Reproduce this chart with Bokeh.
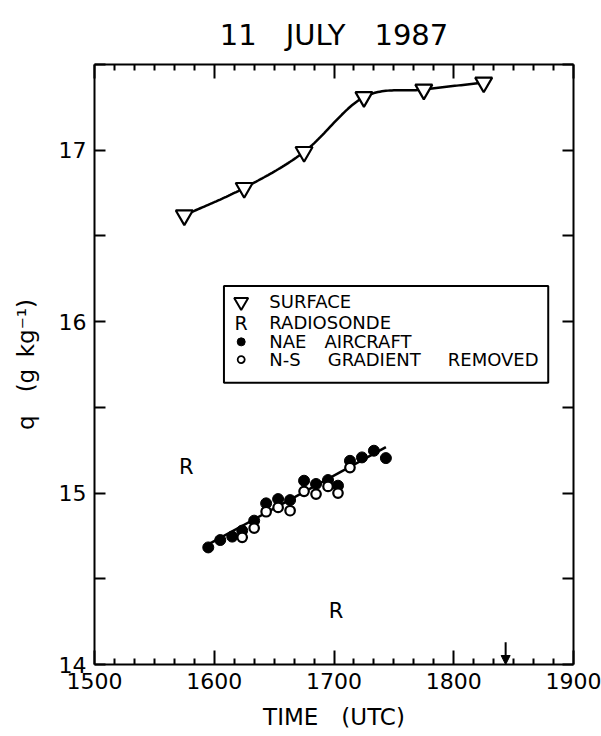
import numpy as np
from bokeh.plotting import figure
from bokeh.models import (LinearAxis, FixedTicker, Range1d, Title, Arrow,
                          NormalHead)
from bokeh.core.properties import value
from bokeh.embed import file_html
from bokeh.resources import INLINE

# ---- data (time in UTC hhmm, specific humidity q in g/kg) ----
surface_time = [1545, 1615, 1645, 1715, 1745, 1815]
surface_q = [16.62, 16.78, 16.99, 17.31, 17.354, 17.395]

radiosonde_time = [1546, 1701]
radiosonde_q = [15.15, 14.315]

aircraft_time = [1557, 1603, 1609, 1614, 1620, 1626, 1632, 1638,
                 1645, 1651, 1657, 1702, 1708, 1714, 1720, 1726]
aircraft_q = [14.683, 14.726, 14.746, 14.781, 14.839, 14.940, 14.965, 14.959,
              15.072, 15.053, 15.076, 15.043, 15.188, 15.208, 15.247, 15.204]

removed_time = [1614, 1620, 1626, 1632, 1638, 1645, 1651, 1657, 1702, 1708]
removed_q = [14.742, 14.796, 14.891, 14.916, 14.897, 15.010, 14.994,
             15.039, 15.000, 15.149]

arrow_time = 1826

x_tick_labels = ["1500", "1600", "1700", "1800", "1900"]
y_tick_labels = ["14", "15", "16", "17"]

GAP = "\u2002\u2002\u2002"
legend_labels = ["SURFACE", "RADIOSONDE",
                 "NAE" + "\u2002\u2002" + "AIRCRAFT",
                 "N-S" + GAP + "GRADIENT" + GAP + "REMOVED"]

FONT = "DejaVu Sans"


def hours(hhmm):
    a = np.asarray(hhmm, dtype=float)
    return np.floor(a / 100) + (a % 100) / 60.0


def smooth_curve(x, y, n=30):
    """Cubic Hermite (Catmull-Rom style) curve through the given points."""
    x = np.asarray(x, float)
    y = np.asarray(y, float)
    m = np.zeros_like(y)
    m[1:-1] = (y[2:] - y[:-2]) / (x[2:] - x[:-2])
    m[0] = (y[1] - y[0]) / (x[1] - x[0])
    m[-1] = (y[-1] - y[-2]) / (x[-1] - x[-2])
    xs, ys = [], []
    for i in range(len(x) - 1):
        h = x[i + 1] - x[i]
        t = np.linspace(0, 1, n, endpoint=(i == len(x) - 2))
        h00 = 2 * t**3 - 3 * t**2 + 1
        h10 = t**3 - 2 * t**2 + t
        h01 = -2 * t**3 + 3 * t**2
        h11 = t**3 - t**2
        xs.append(x[i] + t * h)
        ys.append(h00 * y[i] + h10 * h * m[i] + h01 * y[i + 1] + h11 * h * m[i + 1])
    return np.concatenate(xs), np.concatenate(ys)


p = figure(width=601, height=736, output_backend="svg", toolbar_location=None,
           x_range=Range1d(15, 19), y_range=Range1d(14, 17.5),
           x_axis_type=None, y_axis_type=None,
           min_border_left=94, min_border_right=28,
           min_border_top=64, min_border_bottom=72)
p.outline_line_color = None
p.grid.visible = False
p.background_fill_color = "white"
p.border_fill_color = "white"

x_major = [15, 16, 17, 18, 19]
x_minor = [h + k / 6 for h in range(15, 19) for k in range(1, 6)]
y_major = [14, 15, 16, 17]
y_minor = [14.5, 15.5, 16.5, 17.5]


def make_axis(kind, labelled):
    if kind == "x":
        tick = FixedTicker(ticks=x_major, minor_ticks=x_minor)
        labels = x_tick_labels
        majors = x_major
    else:
        tick = FixedTicker(ticks=y_major, minor_ticks=y_minor)
        labels = y_tick_labels
        majors = y_major
    ax = LinearAxis(ticker=tick)
    ax.axis_line_width = 2
    ax.axis_line_color = "black"
    ax.major_tick_line_width = 2
    ax.minor_tick_line_width = 2
    ax.major_tick_out = 0
    ax.minor_tick_out = 0
    if kind == "x":
        ax.major_tick_in = 14
        ax.minor_tick_in = 6
    else:
        ax.major_tick_in = 11
        ax.minor_tick_in = 11
    if labelled:
        ax.major_label_overrides = {float(v): s for v, s in zip(majors, labels)}
        ax.major_label_text_font = FONT
        ax.major_label_text_font_size = "22px"
        ax.major_label_text_color = "black"
    else:
        ax.major_label_overrides = {float(v): "" for v in majors}
    return ax


xb = make_axis("x", True)
xb.major_label_standoff = 8
xb.axis_label = "TIME\u2003(UTC)"
xb.axis_label_text_font = FONT
xb.axis_label_text_font_size = "23px"
xb.axis_label_text_font_style = "normal"
xb.axis_label_text_color = "black"
xb.axis_label_standoff = 12
p.add_layout(xb, "below")

yl = make_axis("y", True)
yl.major_label_standoff = 8
yl.axis_label = "q\u2003(g\u2002kg\u207b\u00b9)"
yl.axis_label_text_font = FONT
yl.axis_label_text_font_size = "23px"
yl.axis_label_text_font_style = "normal"
yl.axis_label_text_color = "black"
yl.axis_label_standoff = 17
p.add_layout(yl, "left")

p.add_layout(make_axis("x", False), "above")
p.add_layout(make_axis("y", False), "right")

# ---- title ----
p.add_layout(Title(text="11\u2003JULY\u20031987", align="center", offset=18,
                   text_font=FONT, text_font_size="29px",
                   text_font_style="normal", text_color="black",
                   text_line_height=1.0, standoff=26), "above")

# ---- surface observations with smooth curve ----
st = hours(surface_time)
cx, cy = smooth_curve(st, surface_q)
p.line(cx, cy, line_color="black", line_width=2.5)
p.scatter(st, surface_q, marker="inverted_triangle", size=17,
          fill_color="white", line_color="black", line_width=2.2)

# ---- radiosonde ----
p.text(hours(radiosonde_time), radiosonde_q, text=["R"] * len(radiosonde_q),
       text_font=value(FONT), text_font_size="21px", text_align="center",
       text_baseline="middle", text_color="black")

# ---- aircraft with least-squares line ----
at = hours(aircraft_time)
coef = np.polyfit(at, aircraft_q, 1)
fx = np.array([at.min(), at.max()])
p.line(fx, np.polyval(coef, fx), line_color="black", line_width=2.5)
p.scatter(at, aircraft_q, marker="circle", size=11,
          fill_color="black", line_color="black")
p.scatter(hours(removed_time), removed_q, marker="circle", size=9.5,
          fill_color="white", line_color="black", line_width=2.2)

# ---- arrow marking time on the axis ----
ta = float(hours([arrow_time])[0])
p.add_layout(Arrow(end=NormalHead(size=9, fill_color="black", line_color="black"),
                   x_start=ta, y_start=14.13, x_end=ta, y_end=14.0,
                   line_width=2, line_color="black"))

# ---- legend box ----
lx0, lx1 = 16.081, 18.789
ly0, ly1 = 15.644, 16.208
p.quad(left=[lx0], right=[lx1], bottom=[ly0], top=[ly1],
       fill_color="white", line_color="black", line_width=2)
sym_x = 16.225
txt_x = 16.46
row_y = [16.115, 15.995, 15.882, 15.779]
p.scatter([sym_x], [row_y[0]], marker="inverted_triangle", size=14,
          fill_color="white", line_color="black", line_width=2)
p.text([sym_x], [row_y[1]], text=["R"], text_font=value(FONT),
       text_font_size="19px", text_align="center", text_baseline="middle")
p.scatter([sym_x], [row_y[2]], marker="circle", size=8,
          fill_color="black", line_color="black")
p.scatter([sym_x], [row_y[3]], marker="circle", size=7,
          fill_color="white", line_color="black", line_width=1.8)
p.text([txt_x] * 4, row_y, text=legend_labels, text_font=value(FONT),
       text_font_size="18px", text_align="left", text_baseline="middle",
       text_color="black")

open("out.html", "w").write(file_html(p, INLINE))
